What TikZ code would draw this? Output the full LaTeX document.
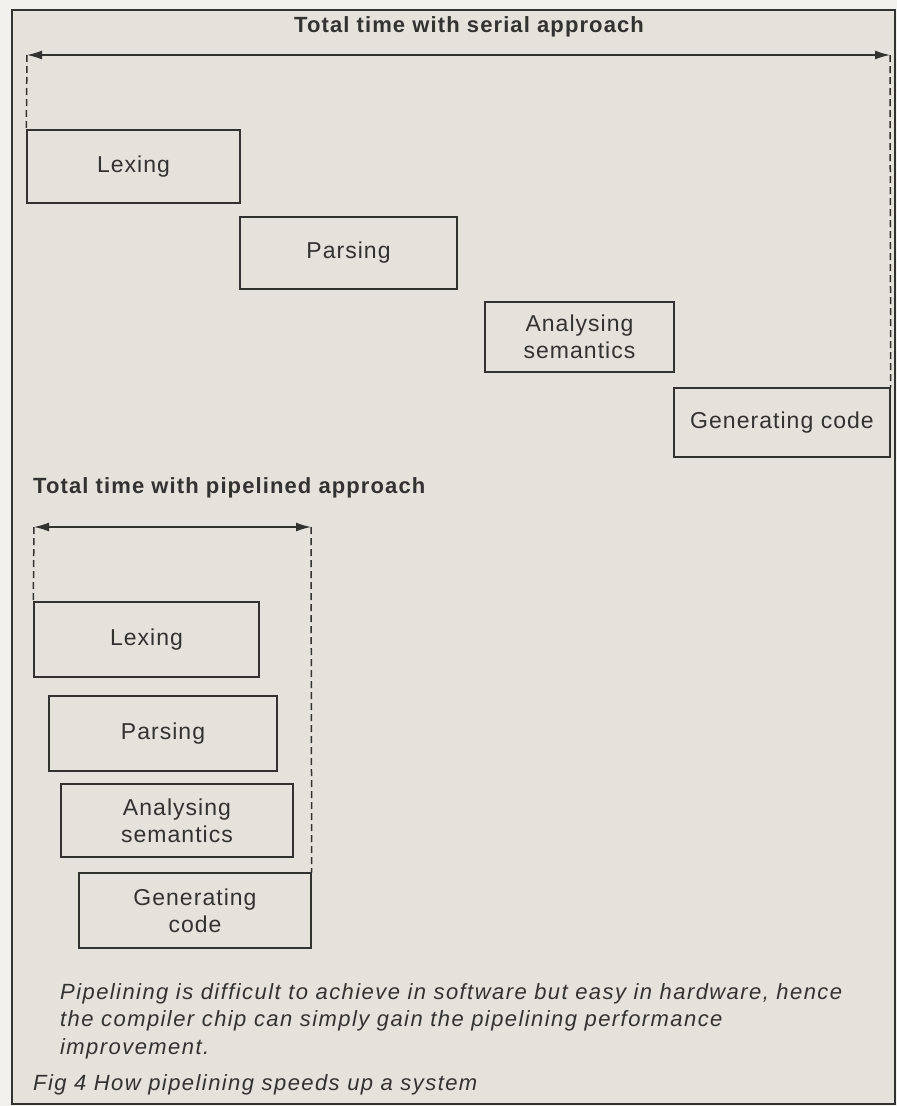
\documentclass[tikz,border=0pt]{standalone}
\usepackage{fontspec}
\setmainfont{Liberation Sans}[LetterSpace=4.5]
\newfontfamily\titlefont{Liberation Sans}[LetterSpace=5]
\newfontfamily\capfont{Liberation Sans}[LetterSpace=6.5]
\usetikzlibrary{arrows.meta}
\definecolor{paper}{RGB}{229,225,219}
\definecolor{outside}{RGB}{242,240,236}
\definecolor{ink}{RGB}{50,50,48}
\tikzset{
  stagebox/.style={draw=ink, line width=1.4pt, rectangle, inner sep=0pt,
    font=\fontsize{23}{27}\selectfont, text=ink, align=center},
  span/.style={draw=ink, line width=1.4pt, {Latex[length=15pt,width=9pt]}-{Latex[length=15pt,width=9pt]}},
  guide/.style={draw=ink, line width=1.5pt, dash pattern=on 7pt off 4pt},
  heading/.style={font=\titlefont\bfseries\fontsize{22}{25}\selectfont, text=ink, inner sep=0pt},
  captext/.style={font=\capfont\itshape\fontsize{22}{27.5}\selectfont, text=ink, inner sep=0pt, anchor=base west}
}
\begin{document}
\begin{tikzpicture}[x=1pt,y=-1pt]
\useasboundingbox (0,0) rectangle (897,1106);
\fill[outside] (0,0) rectangle (897,1106);
\draw[ink, line width=1.6pt, fill=paper] (12,10) rectangle (895,1104);

% serial
\node[heading] (t1) at (469,27) {Total time with serial approach};
\coordinate (sL) at (27,55);
\coordinate (sR) at (890,55);
\node[stagebox, minimum width=213pt, minimum height=73pt] (lex1) at (133.5,166.5) {Lexing};
\node[stagebox, minimum width=217pt, minimum height=72pt] (par1) at (348.5,253) {Parsing};
\node[stagebox, minimum width=189pt, minimum height=70pt] (ana1) at (579.5,337) {Analysing\\semantics};
\node[stagebox, minimum width=216pt, minimum height=69pt] (gen1) at (782,422.5) {Generating code};
\draw[span] (sL) -- (sR);
\draw[guide] (sL) -- (lex1.north west);
\draw[guide] (sR) -- (gen1.north east);

% pipelined
\node[heading, anchor=west] (t2) at (33,488) {Total time with pipelined approach};
\coordinate (pL) at (34,527);
\coordinate (pR) at (311,527);
\node[stagebox, minimum width=225pt, minimum height=75pt] (lex2) at (146.5,639.5) {Lexing};
\node[stagebox, minimum width=228pt, minimum height=75pt] (par2) at (163,733.5) {Parsing};
\node[stagebox, minimum width=232pt, minimum height=73pt] (ana2) at (177,820.5) {Analysing\\semantics};
\node[stagebox, minimum width=232pt, minimum height=75pt] (gen2) at (195,910.5) {Generating\\code};
\draw[span] (pL) -- (pR);
\draw[guide] (pL) -- (lex2.north west);
\draw[guide] (pR) -- (gen2.north east);

% caption
\node[captext] (note1) at (60,999) {Pipelining is difficult to achieve in software but easy in hardware, hence};
\node[captext] (note2) at (60,1026.5) {the compiler chip can simply gain the pipelining performance};
\node[captext] (note3) at (60,1054) {improvement.};
\node[captext] (fig) at (33,1090) {Fig 4 How pipelining speeds up a system};
\end{tikzpicture}
\end{document}
